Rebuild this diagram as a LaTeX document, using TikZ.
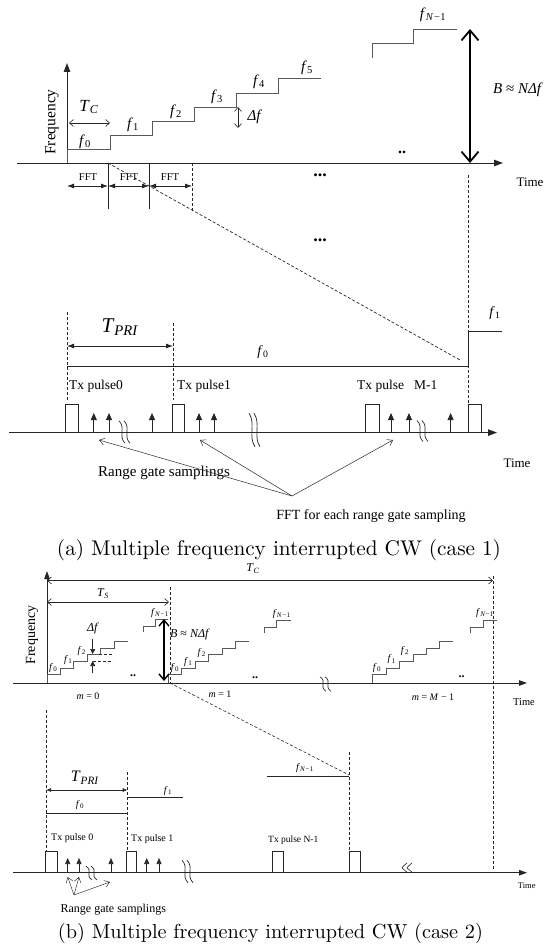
\documentclass[tikz,border=0pt]{standalone}
\usepackage{fontspec}
\usepackage{graphicx}
\usetikzlibrary{arrows.meta}
\newfontfamily\tf{Liberation Serif}[ItalicFont={Liberation Serif Italic},BoldFont={Liberation Serif Bold}]
\newcommand{\fsz}[1]{\fontsize{#1}{#1}\selectfont}
\newcommand{\ff}[1]{\textit{f}\kern0.02em\textsubscript{#1}}
\newcommand{\nmo}{\textit{N}\kern0.05em−\kern0.05em1}
\definecolor{lnc}{gray}{0.15}
\definecolor{stc}{gray}{0.35}
\tikzset{
  ax/.style={line width=1pt, draw=lnc, -{Triangle[length=9pt,width=6.5pt]}},
  axs/.style={line width=0.9pt, draw=lnc, -{Triangle[length=8pt,width=5.5pt]}},
  stair/.style={line width=0.8pt, draw=stc},
  solid line/.style={line width=0.8pt, draw=lnc},
  dsh/.style={line width=0.7pt, draw=lnc, dash pattern=on 3pt off 2pt},
  fa/.style={line width=0.8pt, draw=lnc, {Latex[length=7pt,width=5pt]}-{Latex[length=7pt,width=5pt]}},
  fas/.style={line width=0.7pt, draw=lnc, {Latex[length=5pt,width=4pt]}-{Latex[length=5pt,width=4pt]}},
  oa/.style={line width=0.6pt, draw=lnc, {Straight Barb[length=4pt,width=7pt]}-{Straight Barb[length=4pt,width=7pt]}},
  ba/.style={line width=1.8pt, draw=black, {Straight Barb[length=10pt,width=17pt]}-{Straight Barb[length=10pt,width=17pt]}},
  bas/.style={line width=1.4pt, draw=black, {Straight Barb[length=6pt,width=10pt]}-{Straight Barb[length=6pt,width=10pt]}},
  ua/.style={line width=0.8pt, draw=lnc, -{Triangle[length=7pt,width=6pt]}},
  uas/.style={line width=0.7pt, draw=lnc, -{Triangle[length=6pt,width=5pt]}},
  ga/.style={line width=0.5pt, draw=lnc, -{Straight Barb[length=5pt,width=7pt]}},
  box/.style={line width=0.8pt, draw=lnc, fill=white},
  lb/.style={inner sep=0pt, text=black},
  squig/.pic={
    \draw[line width=0.7pt, draw=lnc] (-4,-8) .. controls (3,-3) and (-5,3) .. (2,8);
    \draw[line width=0.7pt, draw=lnc] (1,-8) .. controls (8,-3) and (0,3) .. (7,8);
  },
  chev/.pic={
    \draw[line width=0.6pt, draw=lnc] (3,-5) .. controls (-1,-2) and (-2,0) .. (-2,0) .. controls (0,2) and (2,3) .. (4,5);
    \draw[line width=0.6pt, draw=lnc] (8,-5) .. controls (4,-2) and (3,0) .. (3,0) .. controls (5,2) and (7,3) .. (9,5);
  }
}
\begin{document}
\begin{tikzpicture}[x=1pt,y=-1pt]
\useasboundingbox (0,0) rectangle (555,947);

%%%%%%%%%%%%%%%%% PANEL (a) %%%%%%%%%%%%%%%%%
% axes
\draw[ax] (67,163) -- (67,63);
\draw[ax] (17,163) -- (503,163);
\node[lb, rotate=90, font=\tf\fsz{15.5}] (freqa) at (52,122) {Frequency};
\node[lb, font=\tf\fsz{13}] (timea) at (530,182) {Time};

% staircase
\draw[stair] (67,163) -- (67,149) -- (110,149) -- (110,135) -- (152,135) -- (152,121)
  -- (194,121) -- (194,107) -- (236,107) -- (236,93) -- (278,93) -- (278,78) -- (321,78);
\draw[stair] (372,58) -- (372,43) -- (413,43) -- (413,29) -- (457,29);

\node[lb, font=\tf\fsz{15}] (fa0) at (85,142) {\ff{0}};
\node[lb, font=\tf\fsz{15}] (fa1) at (133,125) {\ff{1}};
\node[lb, font=\tf\fsz{15}] (fa2) at (176,112) {\ff{2}};
\node[lb, font=\tf\fsz{15}] (fa3) at (217,97) {\ff{3}};
\node[lb, font=\tf\fsz{15}] (fa4) at (259,82) {\ff{4}};
\node[lb, font=\tf\fsz{15}] (fa5) at (307,68) {\ff{5}};
\node[lb, font=\tf\fsz{15}] (faN) at (433,15) {\ff{\nmo}};

% T_C
\node[lb, font=\tf\fsz{17}] (tca) at (89,107) {\textit{T}\textsubscript{\textit{C}}};
\draw[oa] (69,123) -- (110,123);
% delta f
\draw[oa] (238,107) -- (238,128);
\node[lb, font=\tf\fsz{15}] (dfa) at (255,117) {\textit{Δf}};
% bandwidth
\draw[ba] (470,29) -- (470,163);
\node[lb, font=\tf\fsz{15}] (bwa) at (518,90) {\textit{B} ≈ \textit{NΔf}};
% dots
\node[lb, font=\tf\bfseries\fsz{16}] (dota1) at (402,152) {..};
\node[lb, font=\tf\bfseries\fsz{18}] (dota2) at (320,175) {...};
\node[lb, font=\tf\bfseries\fsz{18}] (dota3) at (320,240) {...};

% FFT windows
\draw[solid line] (108,163) -- (108,209);
\draw[solid line] (149,163) -- (149,209);
\draw[dsh] (192,163) -- (192,212);
\draw[fa] (67,186) -- (108,186);
\draw[fa] (108,186) -- (149,186);
\draw[fa] (149,186) -- (192,186);
\node[lb, font=\tf\fsz{10.5}] (ffta1) at (88,177) {FFT};
\node[lb, font=\tf\fsz{10.5}] (ffta2) at (129,177) {FFT};
\node[lb, font=\tf\fsz{10.5}] (ffta3) at (170,177) {FFT};

% zoom lines
\draw[dsh] (108,163) -- (460,360);
\draw[dsh] (468,175) -- (468,404);

% lower part
\draw[dsh] (67,312) -- (67,400);
\draw[dsh] (173,323) -- (173,400);
\draw[fa] (67,346) -- (173,346);
\node[lb, font=\tf\fsz{21}] (tpria) at (120,327) {\textit{T}\textsubscript{\textit{PRI}}};
\draw[solid line] (67,366) -- (468,366) -- (468,331) -- (502,331);
\node[lb, font=\tf\fsz{14}] (fb0) at (263,352) {\ff{0}};
\node[lb, font=\tf\fsz{14}] (fb1) at (495,313) {\ff{1}};

\draw[ax] (9,432.6) -- (497,432.6);
\draw[box] (65.5,404) rectangle (78.6,432.6);
\draw[box] (172.4,404) rectangle (184.8,432.6);
\draw[box] (365.7,404) rectangle (379.5,432.6);
\draw[box] (468,404) rectangle (481.4,432.6);
\foreach \xx in {93.8,109,152,199,214,391,409,450.6}
  \draw[ua] (\xx,432.6) -- (\xx,413);
\pic[yscale=1.4] at (123,432) {squig};
\pic[yscale=2.1] at (253,430) {squig};
\pic[yscale=1.3] at (421,431) {squig};

\node[lb, anchor=west, font=\tf\fsz{13.5}] (txa0) at (69,386.5) {Tx pulse0};
\node[lb, anchor=west, font=\tf\fsz{13.5}] (txa1) at (177,386.5) {Tx pulse1};
\node[lb, anchor=west, font=\tf\fsz{13.5}] (txam) at (357,386.5) {Tx pulse\ \ \ M-1};
\node[lb, font=\tf\fsz{13}] (timea2) at (517,463) {Time};
\node[lb, font=\tf\fsz{15}] (rgsa) at (164,473) {Range gate samplings};
\node[lb, font=\tf\fsz{14}] (ffteach) at (371,516) {FFT for each range gate sampling};
\coordinate (apexa) at (292,496);
\draw[ga] (apexa) -- (99,440);
\draw[ga] (apexa) -- (200,440);
\draw[ga] (apexa) -- (393,440);

\node[lb] (capa) at (279,550) {\resizebox{444pt}{!}{(a) Multiple frequency interrupted CW (case 1)}};

%%%%%%%%%%%%%%%%% PANEL (b) %%%%%%%%%%%%%%%%%
\draw[axs] (47,683) -- (47,571);
\draw[axs] (13,683) -- (527,683);
\node[lb, rotate=90, font=\tf\fsz{14}] (freqb) at (32,635) {Frequency};
\node[lb, font=\tf\fsz{10.5}] (timeb) at (524,702) {Time};

\draw[oa] (47,580.5) -- (493,580.5);
\node[lb, font=\tf\fsz{12}] (tcb) at (253,569) {\textit{T}\textsubscript{\textit{C}}};
\draw[oa] (47,602) -- (169,602);
\node[lb, font=\tf\fsz{12}] (tsb) at (103,594) {\textit{T}\textsubscript{\textit{S}}};
\draw[dsh] (493,576) -- (493,870);
\draw[dsh] (170,587) -- (170,683);

% staircases
\foreach \xo/\ys in {47/683,168.3/683,372.7/683}{
  \draw[stair] (\xo,\ys) -- (\xo,674.5) -- ++(13.4,0) -- ++(0,-6.6) -- ++(13.4,0) -- ++(0,-6.6)
    -- ++(13.4,0) -- ++(0,-6.6) -- ++(13.4,0) -- ++(0,-6.6) -- ++(13.4,0) -- ++(0,-6.6) -- ++(13.6,0);
}
\draw[stair] (143.3,632) -- (143.3,626.7) -- (155,626.7) -- (155,619.3) -- (168.3,619.3);
\draw[stair] (264.3,633) -- (264.3,627.3) -- (276,627.3) -- (276,620) -- (290.7,620);
\draw[stair] (470,633.3) -- (470,627.7) -- (483.3,627.7) -- (483.3,620.7) -- (496.7,620.7);

\node[lb, font=\tf\fsz{10}] (g0f0) at (53.3,668) {\ff{0}};
\node[lb, font=\tf\fsz{10}] (g0f1) at (68.3,660) {\ff{1}};
\node[lb, font=\tf\fsz{10}] (g0f2) at (81.7,650.7) {\ff{2}};
\node[lb, font=\tf\fsz{10}] (g1f0) at (175,668) {\ff{0}};
\node[lb, font=\tf\fsz{10}] (g1f1) at (188.3,661.7) {\ff{1}};
\node[lb, font=\tf\fsz{10}] (g1f2) at (201.7,652.7) {\ff{2}};
\node[lb, font=\tf\fsz{10}] (g2f0) at (377,668) {\ff{0}};
\node[lb, font=\tf\fsz{10}] (g2f1) at (391.7,659.3) {\ff{1}};
\node[lb, font=\tf\fsz{10}] (g2f2) at (405,651) {\ff{2}};
\node[lb, font=\tf\fsz{10}] (g0fN) at (160,613) {\ff{\nmo}};
\node[lb, font=\tf\fsz{10}] (g1fN) at (281.7,614) {\ff{\nmo}};
\node[lb, font=\tf\fsz{10}] (g2fN) at (485,613) {\ff{\nmo}};

% delta f (b)
\draw[dsh, line width=0.5pt] (99,654) -- (113,654);
\draw[dsh, line width=0.5pt] (93,661) -- (113,661);
\draw[line width=0.7pt, draw=lnc, -{Triangle[length=5pt,width=5pt]}] (92.7,639) -- (92.7,654);
\draw[line width=0.7pt, draw=lnc, -{Triangle[length=5pt,width=5pt]}] (92.7,673) -- (92.7,661);
\node[lb, font=\tf\fsz{12}] (dfb) at (93,629) {\textit{Δf}};
\draw[bas] (164,619) -- (164,681);
\node[lb, font=\tf\fsz{12}] (bwb) at (190,635) {\textit{B} ≈ \textit{NΔf}};

\node[lb, font=\tf\bfseries\fsz{12}] (dotb0) at (133,676) {..};
\node[lb, font=\tf\bfseries\fsz{12}] (dotb1) at (255,678) {..};
\node[lb, font=\tf\bfseries\fsz{12}] (dotb2) at (461.7,677) {..};
\node[lb, font=\tf\fsz{10}] (mb0) at (88,696) {\textit{m} = 0};
\node[lb, font=\tf\fsz{10}] (mb1) at (220,694) {\textit{m} = 1};
\node[lb, font=\tf\fsz{10}] (mbM) at (433,697) {\textit{m} = \textit{M} − 1};
\pic[yscale=0.9] at (324,684) {squig};

\draw[dsh, line width=0.6pt] (170,683) -- (349,775);

% lower (b)
\draw[dsh] (46,710) -- (46,852);
\draw[dsh] (127.7,772) -- (127.7,852);
\draw[dsh] (349,752) -- (349,852);
\draw[fas] (46,790) -- (127.7,790);
\node[lb, font=\tf\fsz{16}] (tprib) at (85,778) {\textit{T}\textsubscript{\textit{PRI}}};
\draw[solid line, line width=0.7pt] (46,813.3) -- (127.7,813.3);
\node[lb, font=\tf\fsz{10}] (lf0) at (80,805) {\ff{0}};
\draw[solid line, line width=0.7pt] (127.7,797.7) -- (182.7,797.7);
\node[lb, font=\tf\fsz{10}] (lf1) at (168,790.7) {\ff{1}};
\draw[solid line, line width=0.7pt] (267,776.7) -- (349,776.7);
\node[lb, font=\tf\fsz{10}] (lfN) at (305,768) {\ff{\nmo}};

\draw[axs] (13,872.7) -- (527,872.7);
\draw[box, line width=0.7pt] (45.7,851.7) rectangle (57.7,872.7);
\draw[box, line width=0.7pt] (126.7,851.7) rectangle (136.7,872.7);
\draw[box, line width=0.7pt] (272.7,851.7) rectangle (283.3,872.7);
\draw[box, line width=0.7pt] (349,851.7) rectangle (360,872.7);
\foreach \xx in {67.7,79,111,146.7,159}
  \draw[uas] (\xx,872.7) -- (\xx,858);
\pic[yscale=0.85] at (90,873) {squig};
\pic[yscale=1.4] at (186,871.5) {squig};
\pic at (404,868) {chev};

\node[lb, anchor=west, font=\tf\fsz{10}] (txb0) at (51,838) {Tx pulse 0};
\node[lb, anchor=west, font=\tf\fsz{10}] (txb1) at (131,839) {Tx pulse 1};
\node[lb, anchor=west, font=\tf\fsz{9.5}] (txbN) at (268,840.7) {Tx pulse N-1};
\node[lb, font=\tf\fsz{8.5}] (timeb2) at (526.7,886) {Time};
\node[lb, font=\tf\fsz{12}] (rgsb) at (113.3,909.3) {Range gate samplings};
\coordinate (apexb) at (74,895);
\draw[ga, line width=0.45pt] (apexb) -- (67.7,877);
\draw[ga, line width=0.45pt] (apexb) -- (79,877);
\draw[ga, line width=0.45pt] (apexb) -- (110,882);

\node[lb] (capb) at (270.5,933) {\resizebox{425pt}{!}{(b) Multiple frequency interrupted CW (case 2)}};
\end{tikzpicture}
\end{document}
